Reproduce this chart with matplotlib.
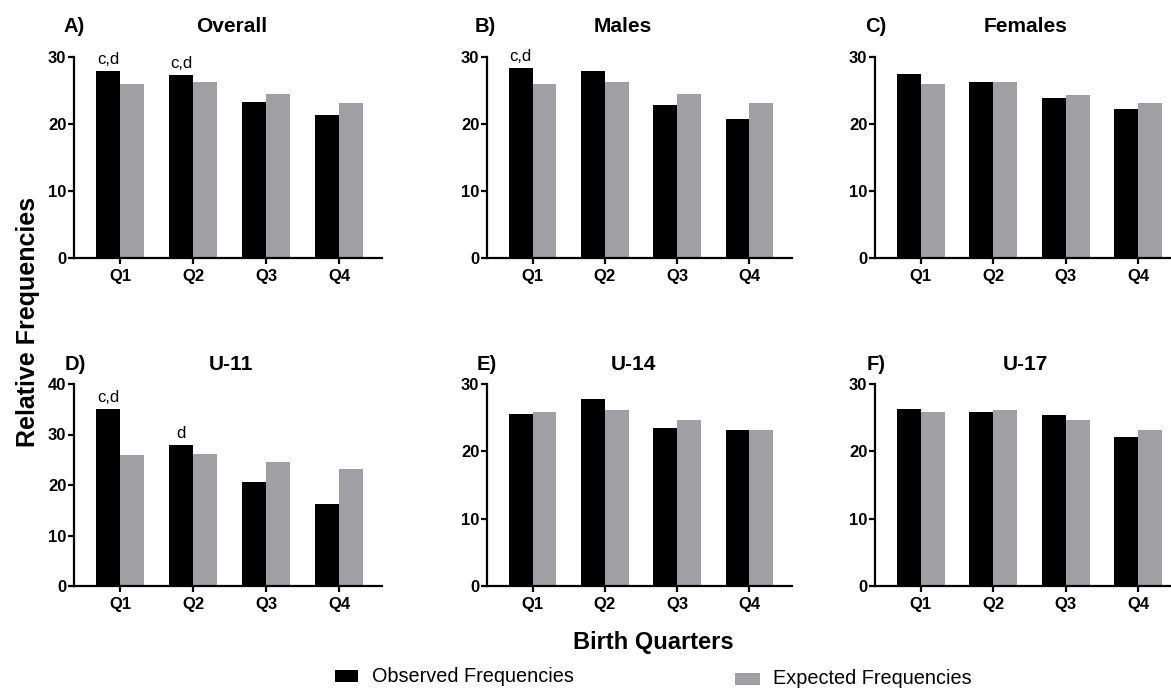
import matplotlib
matplotlib.use("Agg")
import matplotlib.pyplot as plt
import matplotlib.patches as mpatches
import numpy as np

W, H = 1171, 689

quarters = ["Q1", "Q2", "Q3", "Q4"]
panel_letters = ["A)", "B)", "C)", "D)", "E)", "F)"]
panel_titles = ["Overall", "Males", "Females", "U-11", "U-14", "U-17"]

observed_overall = [27.9, 27.3, 23.3, 21.3]
observed_males = [28.3, 27.9, 22.8, 20.7]
observed_females = [27.4, 26.2, 23.9, 22.2]
observed_u11 = [35.0, 27.9, 20.5, 16.3]
observed_u14 = [25.5, 27.7, 23.4, 23.1]
observed_u17 = [26.3, 25.9, 25.4, 22.1]

expected_overall = [25.9, 26.3, 24.5, 23.2]
expected_males = [26.0, 26.2, 24.5, 23.2]
expected_females = [25.9, 26.3, 24.4, 23.2]
expected_u11 = [25.9, 26.2, 24.6, 23.1]
expected_u14 = [25.9, 26.2, 24.6, 23.2]
expected_u17 = [25.9, 26.2, 24.6, 23.2]

ymax = [30, 30, 30, 40, 30, 30]

annot_overall = ["c,d", "c,d", "", ""]
annot_males = ["c,d", "", "", ""]
annot_females = ["", "", "", ""]
annot_u11 = ["c,d", "d", "", ""]
annot_u14 = ["", "", "", ""]
annot_u17 = ["", "", "", ""]

observed = [observed_overall, observed_males, observed_females,
            observed_u11, observed_u14, observed_u17]
expected = [expected_overall, expected_males, expected_females,
            expected_u11, expected_u14, expected_u17]
annots = [annot_overall, annot_males, annot_females,
          annot_u11, annot_u14, annot_u17]

BLACK = "#000000"
GRAY = "#a09fa4"
plt.rcParams["font.family"] = ["Liberation Sans", "DejaVu Sans"]

fig = plt.figure(figsize=(W / 100, H / 100), dpi=100)


def fx(px):
    return px / W


def fy(py):
    return 1 - py / H


lefts = [74, 487, 875]
rights = [382, 792, 1181]
rows = [(57, 258), (384, 586)]

letter_x = [[63, 475, 865], [65, 477, 867]]
title_x = [[232, 623, 1026], [231, 633, 1025]]
title_y = [27, 364]

x = np.arange(len(quarters))
bw = 0.33

for i in range(6):
    r, c = divmod(i, 3)
    top, bot = rows[r]
    ax = fig.add_axes([fx(lefts[c]), fy(bot), fx(rights[c] - lefts[c]),
                       (bot - top) / H])
    ax.bar(x - bw / 2, observed[i], bw, color=BLACK, linewidth=0)
    ax.bar(x + bw / 2, expected[i], bw, color=GRAY, linewidth=0)
    ax.set_xlim(-0.63, 3.59)
    ax.set_ylim(0, ymax[i])
    ax.set_yticks(np.arange(0, ymax[i] + 1, 10))
    ax.set_xticks(x)
    ax.set_xticklabels(quarters)
    for s in ["top", "right"]:
        ax.spines[s].set_visible(False)
    for s in ["left", "bottom"]:
        ax.spines[s].set_linewidth(1.6)
    ax.tick_params(axis="both", direction="out", length=4, width=1.6,
                   labelsize=12, pad=1.5)
    ax.tick_params(axis="x", pad=4, labelsize=12)
    for t in ax.get_xticklabels() + ax.get_yticklabels():
        t.set_fontweight("bold")
    ax.patch.set_alpha(0)
    for j, a in enumerate(annots[i]):
        if a:
            ax.annotate(a, (x[j] - bw / 2, observed[i][j]),
                        xytext=(0, 3), textcoords="offset points",
                        ha="center", va="bottom", fontsize=12)
    fig.text(fx(letter_x[r][c]), fy(title_y[r]), panel_letters[i],
             ha="left", va="center", fontsize=14.5, fontweight="bold")
    fig.text(fx(title_x[r][c]), fy(title_y[r]), panel_titles[i],
             ha="center", va="center", fontsize=15, fontweight="bold")

fig.text(fx(28), fy(322), "Relative Frequencies", rotation=90,
         ha="center", va="center", fontsize=18, fontweight="bold")
fig.text(fx(653), fy(643), "Birth Quarters", ha="center", va="center",
         fontsize=17, fontweight="bold")

fig.add_artist(mpatches.Rectangle((fx(335), fy(682)), fx(23), 12 / H,
                                  facecolor=BLACK, edgecolor="none",
                                  transform=fig.transFigure))
fig.text(fx(372), fy(676), "Observed Frequencies", ha="left", va="center",
         fontsize=14.3)
fig.add_artist(mpatches.Rectangle((fx(735), fy(685)), fx(25), 12 / H,
                                  facecolor=GRAY, edgecolor="none",
                                  transform=fig.transFigure))
fig.text(fx(773), fy(679), "Expected Frequencies", ha="left", va="center",
         fontsize=14.3)

fig.savefig("out.png", dpi=100)
